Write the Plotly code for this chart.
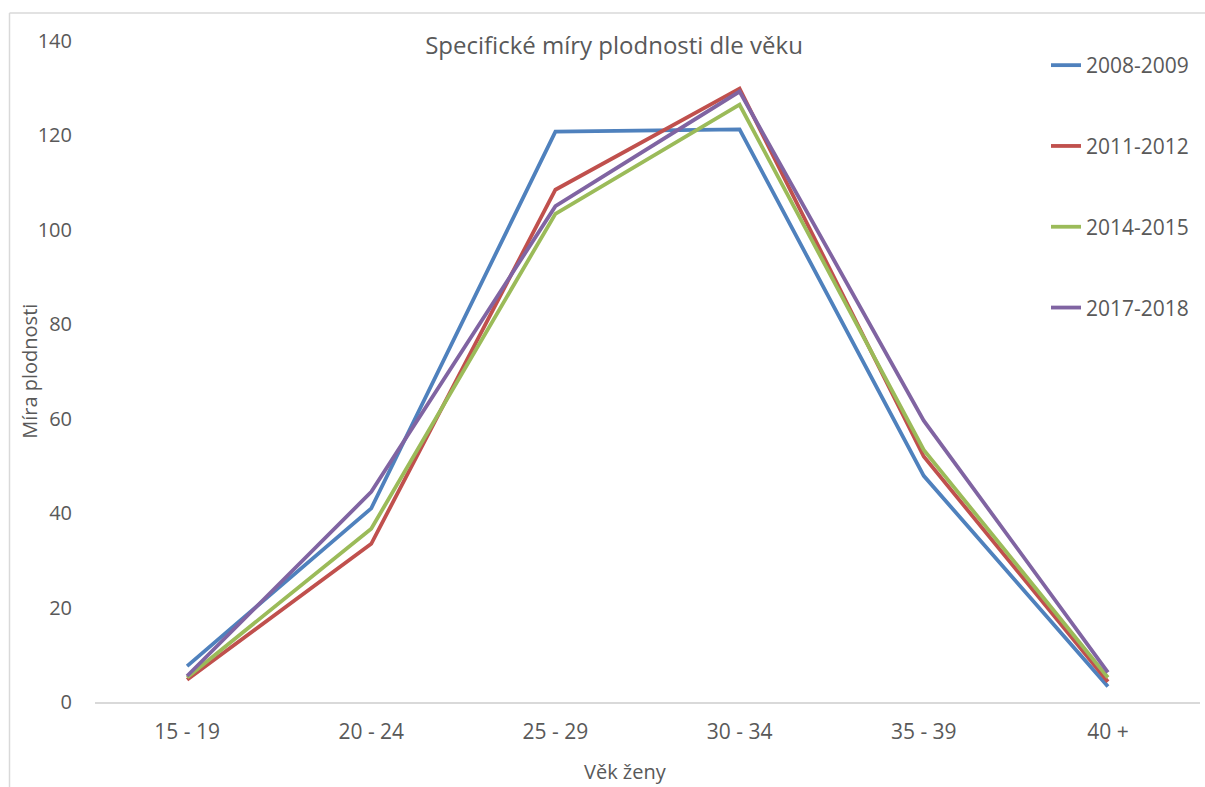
import plotly.graph_objects as go

categories = ["15 - 19", "20 - 24", "25 - 29", "30 - 34", "35 - 39", "40 +"]
series_names = ["2008-2009", "2011-2012", "2014-2015", "2017-2018"]
v_2008_2009 = [7.6, 41.0, 120.8, 121.3, 47.9, 3.3]
v_2011_2012 = [4.7, 33.5, 108.5, 129.9, 52.0, 4.3]
v_2014_2015 = [5.2, 36.7, 103.4, 126.5, 53.4, 5.2]
v_2017_2018 = [5.5, 44.5, 105.0, 129.3, 59.6, 6.3]
y_ticks = [0, 20, 40, 60, 80, 100, 120, 140]

colors = ["#4F81BD", "#C0504D", "#9BBB59", "#8064A2"]
values = [v_2008_2009, v_2011_2012, v_2014_2015, v_2017_2018]

W, H = 1205, 787
L, R, T, B = 95, 5, 41, 84.5
FONT = "Open Sans"
GREY = "#595959"

fig = go.Figure()
for name, vals, col in zip(series_names, values, colors):
    fig.add_trace(go.Scatter(
        x=categories, y=vals, name=name, mode="lines",
        line=dict(color=col, width=3.8),
        legendgroup=name,
    ))

pw = W - L - R
ph = H - T - B
def px(x):
    return (x - L) / pw
def py(y):
    return (H - B - y) / ph

fig.update_layout(
    width=W, height=H,
    margin=dict(l=L, r=R, t=T, b=B),
    paper_bgcolor="white", plot_bgcolor="white",
    font=dict(family=FONT, color=GREY, size=20),
    title=dict(text="Specifické míry plodnosti dle věku",
               x=614 / W, xref="container", xanchor="center",
               y=1 - 46 / H, yref="container", yanchor="middle",
               font=dict(size=24, color=GREY, family=FONT)),
    xaxis=dict(range=[-0.5, 5.5], showgrid=False, showline=True,
               linecolor="#D9D9D9", linewidth=1.5, ticks="",
               tickfont=dict(size=21, color=GREY),
               ticklabelstandoff=10, zeroline=False, fixedrange=True),
    yaxis=dict(range=[0, 140], tickvals=y_ticks, showgrid=False,
               showline=False, zeroline=False, ticks="",
               tickfont=dict(size=20, color=GREY),
               ticklabelstandoff=22, fixedrange=True),
    legend=dict(x=px(1046), xanchor="left", y=py(45), yanchor="top",
                bgcolor="rgba(0,0,0,0)", font=dict(size=21, color=GREY),
                tracegroupgap=50.5, itemwidth=30),
    showlegend=True,
    annotations=[
        dict(text="Věk ženy", x=px(625), y=py(772), xref="paper", yref="paper",
             showarrow=False, xanchor="center", yanchor="middle",
             font=dict(size=20, color=GREY, family=FONT)),
        dict(text="Míra plodnosti", x=px(30), y=py(372), xref="paper", yref="paper",
             showarrow=False, xanchor="center", yanchor="middle", textangle=-90,
             font=dict(size=20, color=GREY, family=FONT)),
    ],
    shapes=[
        dict(type="line", xref="paper", yref="paper", x0=px(9.5), x1=px(1210),
             y0=py(13), y1=py(13), line=dict(color="#D9D9D9", width=1.5)),
        dict(type="line", xref="paper", yref="paper", x0=px(9.5), x1=px(9.5),
             y0=py(13), y1=py(795), line=dict(color="#D9D9D9", width=1.5)),
    ],
)

fig.write_html("out.html",
               config={"displayModeBar": False},
               post_script="document.body.style.margin='0';document.body.style.overflow='hidden';")
